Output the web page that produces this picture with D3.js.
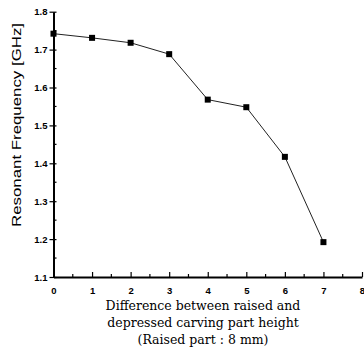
<!DOCTYPE html>
<html>
<head>
<meta charset="utf-8">
<script src="https://cdn.jsdelivr.net/npm/d3@7"></script>
<style>
  body { margin: 0; background: #fff; }
  svg { display: block; }
</style>
</head>
<body>
<svg id="chart" width="364" height="353"></svg>
<script>
// data
const heightDiff = [0, 1, 2, 3, 4, 5, 6, 7];
const freqGHz = [1.742, 1.731, 1.718, 1.688, 1.568, 1.548, 1.417, 1.192];
const xTicks = [0, 1, 2, 3, 4, 5, 6, 7, 8];
const yTicks = [1.1, 1.2, 1.3, 1.4, 1.5, 1.6, 1.7, 1.8];
const yLabel = "Resonant Frequency [GHz]";
const xLabel = ["Difference between raised and", "depressed carving part height", "(Raised part : 8 mm)"];

const svg = d3.select("#chart");

const x = d3.scaleLinear().domain([0, 8]).range([53.5, 362]);
const y = d3.scaleLinear().domain([1.1, 1.8]).range([277, 11.7]);

// x axis, ticks pointing inward
const xAxis = svg.append("g")
    .attr("transform", `translate(0, ${y(1.1)})`)
    .call(d3.axisBottom(x).tickValues(xTicks).tickSizeInner(-5).tickSizeOuter(0).tickPadding(10).tickFormat(d3.format("d")));
xAxis.append("g").selectAll("line")
    .data(d3.range(0.5, 8, 1))
    .enter().append("line")
    .attr("x1", d => x(d)).attr("x2", d => x(d))
    .attr("y1", 0).attr("y2", -3)
    .attr("stroke", "#000").attr("stroke-width", 1.2);

// y axis, major ticks crossing
const yAxis = svg.append("g")
    .attr("transform", `translate(${x(0)}, 0)`)
    .call(d3.axisLeft(y).tickValues(yTicks).tickSizeInner(4).tickSizeOuter(0).tickPadding(2).tickFormat(d3.format(".1f")));
yAxis.selectAll(".tick line").attr("x2", -4).attr("x1", 3);
yAxis.append("g").selectAll("line")
    .data(d3.range(1.15, 1.8, 0.1))
    .enter().append("line")
    .attr("x1", 0).attr("x2", 3)
    .attr("y1", d => y(d)).attr("y2", d => y(d))
    .attr("stroke", "#000").attr("stroke-width", 1.2);

svg.selectAll(".domain").attr("stroke", "#000").attr("stroke-width", 2);
svg.selectAll(".tick line").attr("stroke", "#000").attr("stroke-width", 1.2);
svg.selectAll(".tick text")
    .attr("fill", "#000")
    .style("font-family", "'Liberation Sans', Arial, sans-serif")
    .style("font-weight", "bold")
    .style("font-size", "9.5px");

// line and markers
const line = d3.line()
    .x((d, i) => x(heightDiff[i]))
    .y(d => y(d));

svg.append("path")
    .attr("d", line(freqGHz))
    .attr("fill", "none")
    .attr("stroke", "#222")
    .attr("stroke-width", 1);

svg.append("g").selectAll("rect")
    .data(freqGHz)
    .enter().append("rect")
    .attr("x", (d, i) => x(heightDiff[i]) - 3)
    .attr("y", d => y(d) - 3)
    .attr("width", 6)
    .attr("height", 6)
    .attr("fill", "#000");

// axis titles
svg.append("text")
    .attr("transform", "translate(20.5, 125) rotate(-90)")
    .attr("text-anchor", "middle")
    .attr("textLength", 204)
    .attr("lengthAdjust", "spacingAndGlyphs")
    .style("font-family", "'Liberation Sans', Arial, sans-serif")
    .style("font-size", "13px")
    .text(yLabel);

svg.append("g").selectAll("text")
    .data(xLabel)
    .enter().append("text")
    .attr("x", 203)
    .attr("y", (d, i) => 310 + i * 17)
    .attr("text-anchor", "middle")
    .style("font-family", "'DejaVu Serif', 'Liberation Serif', serif")
    .style("font-size", "12.5px")
    .text(d => d);
</script>
</body>
</html>
